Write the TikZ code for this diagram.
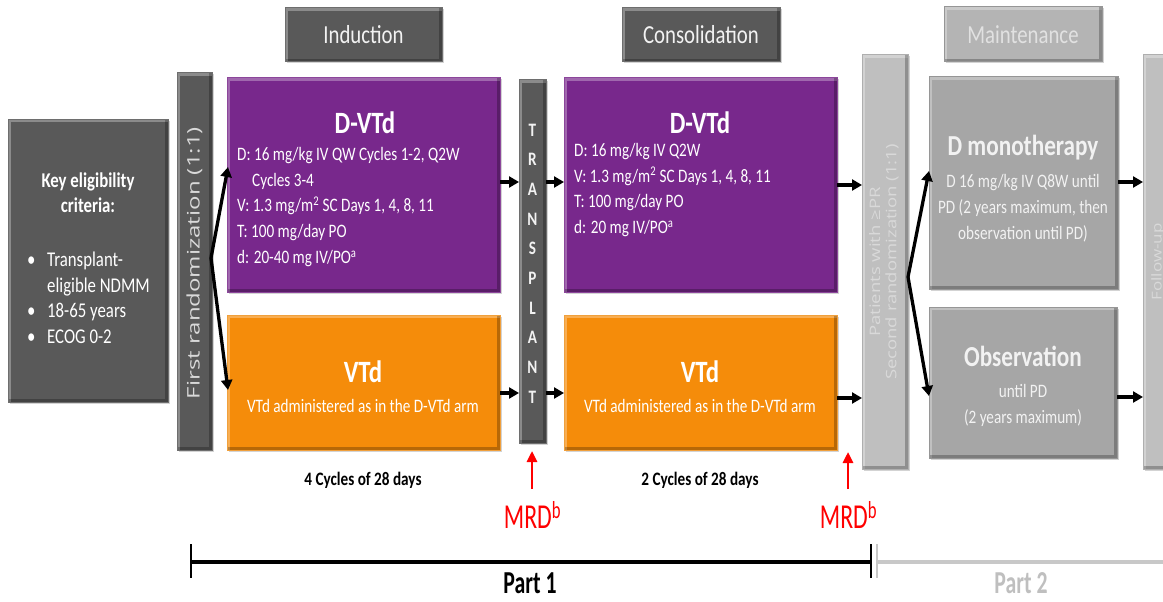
\documentclass[tikz,border=0pt]{standalone}
\usepackage{fontspec}
\setmainfont{Carlito}[FakeStretch=0.8]
\newfontfamily\osans{Open Sans}
\usetikzlibrary{shadows,arrows.meta}
\definecolor{dgray}{RGB}{89,89,89}
\definecolor{dgrayedge}{RGB}{110,110,110}
\definecolor{purp}{RGB}{120,40,140}
\definecolor{purpedge}{RGB}{140,70,155}
\definecolor{orng}{RGB}{245,140,10}
\definecolor{orngedge}{RGB}{240,160,60}
\definecolor{lgray}{RGB}{191,191,191}
\definecolor{lgrayedge}{RGB}{175,175,175}
\definecolor{mgray}{RGB}{166,166,166}
\definecolor{mgrayedge}{RGB}{150,150,150}
\definecolor{hgray}{RGB}{180,180,180}
\definecolor{softwhite}{RGB}{242,242,242}
\definecolor{rottext}{RGB}{217,217,217}
\definecolor{linegray}{RGB}{200,200,200}
\definecolor{partgray}{RGB}{191,191,191}
\definecolor{mrdred}{RGB}{255,0,0}
\begin{document}
\begin{tikzpicture}[x=1pt,y=-1pt,
  boxbase/.style={anchor=north west, inner sep=0pt, outer sep=0pt, line width=1pt,
     drop shadow={shadow xshift=1.5pt, shadow yshift=-1.5pt, opacity=0.35},
     path picture={
       \draw[white, opacity=0.3, line width=6pt]
         (path picture bounding box.south west) -- (path picture bounding box.north west)
         -- (path picture bounding box.north east);
       \draw[black, opacity=0.25, line width=6pt]
         (path picture bounding box.north east) -- (path picture bounding box.south east)
         -- (path picture bounding box.south west);
     }},
  darkbox/.style={boxbase, fill=dgray, draw=dgrayedge},
  purplebox/.style={boxbase, fill=purp, draw=purpedge},
  orangebox/.style={boxbase, fill=orng, draw=orngedge},
  lightbar/.style={boxbase, fill=lgray, draw=lgrayedge},
  maintbox/.style={boxbase, fill=mgray, draw=mgrayedge},
  headbox/.style={boxbase, fill=hgray, draw=mgrayedge},
  sz/.style 2 args={minimum width=#1, minimum height=#2},
  hdrtext/.style={text=softwhite, font=\fontsize{26}{30}\selectfont},
  titletext/.style={text=white, font=\bfseries\fontsize{31}{36}\selectfont},
  bodytext/.style={text=white, font=\fontsize{19}{25.8}\selectfont, align=left, inner sep=0pt},
  mtitle/.style={text=softwhite, font=\bfseries\fontsize{29}{34}\selectfont},
  mbody/.style={text=softwhite, font=\fontsize{19}{26}\selectfont, align=center, inner sep=0pt},
  arr/.style={draw=black, line width=3.3pt, -{Triangle[length=10pt,width=11pt]}},
  redarr/.style={draw=mrdred, line width=2.6pt, -{Triangle[length=11pt,width=10pt]}},
  cyctext/.style={text=black, font=\bfseries\fontsize{19}{22}\selectfont},
  mrdtext/.style={text=mrdred, font=\fontsize{35}{38}\selectfont, inner sep=0pt},
]
\useasboundingbox (0,0) rectangle (1163,602);

% headers
\node[darkbox, sz={157pt}{54pt}] (ind) at (285,8) {};
\node[darkbox, sz={158pt}{54pt}] (cons) at (622,8) {};
\node[headbox, sz={158pt}{55pt}] (maint) at (944,7) {};
\node[hdrtext] (indT) at (ind.center) {Induction};
\node[hdrtext] (consT) at (cons.center) {Consolidation};
\node[hdrtext, text=rottext!80!white] (maintT) at (maint.center) {Maintenance};

% boxes
\node[darkbox, sz={160pt}{283pt}] (elig) at (8,119) {};
\node[darkbox, sz={35pt}{377pt}] (rand1) at (177,73) {};
\node[purplebox, sz={273pt}{214pt}] (dvtd1) at (227,78) {};
\node[orangebox, sz={273pt}{135pt}] (vtd1) at (227,315) {};
\node[darkbox, sz={27pt}{363pt}] (tx) at (519,80) {};
\node[purplebox, sz={273pt}{214pt}] (dvtd2) at (564,78) {};
\node[orangebox, sz={273pt}{135pt}] (vtd2) at (564,315) {};
\node[lightbar, sz={46pt}{414pt}] (rand2) at (862,55) {};
\node[maintbox, sz={189pt}{212pt}] (dmono) at (929,77) {};
\node[maintbox, sz={188pt}{151pt}] (obs) at (929,307) {};
\node[lightbar, sz={35pt}{414pt}] (fu) at (1143,55) {};

% eligibility text
\node[text=white, font=\bfseries\fontsize{21}{25}\selectfont, align=center] (eligT) at (88,193) {Key eligibility\\criteria:};
\node[text=white, font=\fontsize{21}{25.5}\selectfont, align=left, anchor=west, inner sep=0pt] (eligB) at (27,298)
  {\makebox[20pt][l]{•}Transplant-\\\makebox[20pt][l]{}eligible NDMM\\\makebox[20pt][l]{•}18-65 years\\\makebox[20pt][l]{•}ECOG 0-2};

% rotated bar texts
\node[rotate=90, text=rottext, font=\osans\fontsize{24}{28}\selectfont] (rand1T) at (194.5,263) {\scalebox{1}[0.72]{First randomization (1:1)}};
\node[rotate=90, text=rottext, font=\osans\fontsize{18.5}{21}\selectfont] (rand2T) at (885,262)
  {\scalebox{1}[0.78]{\begin{tabular}{@{}c@{}}Patients with ≥PR\\Second randomization (1:1)\end{tabular}}};
\node[rotate=90, text=rottext, font=\osans\fontsize{17}{20}\selectfont] (fuT) at (1158,262) {\scalebox{1}[0.8]{Follow-up}};

% transplant letters
\node[text=softwhite, font=\bfseries\fontsize{19}{29.7}\selectfont, align=center, inner sep=0pt] (txT) at (532.5,263.5)
  {T\\R\\A\\N\\S\\P\\L\\A\\N\\T};

% induction D-VTd
\node[titletext] (dvtd1T) at (365,123) {D-VTd};
\node[bodytext, anchor=west] (dvtd1B) at (237,207)
  {D: 16 mg/kg IV QW Cycles 1-2, Q2W\\\hspace*{15pt}Cycles 3-4\\V: 1.3 mg/m\textsuperscript{2} SC Days 1, 4, 8, 11\\T: 100 mg/day PO\\d: 20-40 mg IV/PO\textsuperscript{a}};
\node[titletext] (vtd1T) at (363,372) {VTd};
\node[bodytext] (vtd1B) at (363,406) {VTd administered as in the D-VTd arm};

% consolidation
\node[titletext] (dvtd2T) at (700,123) {D-VTd};
\node[bodytext, anchor=west] (dvtd2B) at (574,190)
  {D: 16 mg/kg IV Q2W\\V: 1.3 mg/m\textsuperscript{2} SC Days 1, 4, 8, 11\\T: 100 mg/day PO\\d: 20 mg IV/PO\textsuperscript{a}};
\node[titletext] (vtd2T) at (700,372) {VTd};
\node[bodytext] (vtd2B) at (700,406) {VTd administered as in the D-VTd arm};

% maintenance
\node[mtitle] (dmonoT) at (1023,148) {D monotherapy};
\node[mbody] (dmonoB) at (1023,208) {D 16 mg/kg IV Q8W until\\PD (2 years maximum, then\\observation until PD)};
\node[mtitle] (obsT) at (1023,356) {Observation};
\node[mbody] (obsB) at (1023,405) {until PD\\(2 years maximum)};

% cycles
\node[cyctext] (cyc1) at (363,480) {4 Cycles of 28 days};
\node[cyctext] (cyc2) at (700,480) {2 Cycles of 28 days};

% MRD
\node[mrdtext] (mrd1) at (532.5,515) {\scalebox{0.85}[1]{MRD\textsuperscript{b}}};
\node[mrdtext] (mrd2) at (848.5,515) {\scalebox{0.85}[1]{MRD\textsuperscript{b}}};
\coordinate (m1a) at (532,489); \coordinate (m1b) at (532,451);
\coordinate (m2a) at (848,489); \coordinate (m2b) at (848,452);
\draw[redarr] (m1a) -- (m1b);
\draw[redarr] (m2a) -- (m2b);

% arrows
\coordinate (f1) at (211,258);
\coordinate (f1t) at (228,167);
\coordinate (f1b) at (228,390);
\draw[arr] (f1) -- (f1t);
\draw[arr] (f1) -- (f1b);
\draw[arr] (dvtd1.east |- 0,182) -- (tx.west |- 0,182);
\draw[arr] (vtd1.east |- 0,393) -- (tx.west |- 0,393);
\draw[arr] (tx.east |- 0,182) -- (dvtd2.west |- 0,182);
\draw[arr] (tx.east |- 0,393) -- (dvtd2.west |- 0,393);
\draw[arr] (dvtd2.east |- 0,185) -- (rand2.west |- 0,185);
\draw[arr] (vtd2.east |- 0,398) -- (rand2.west |- 0,398);
\coordinate (f2) at (908,277);
\coordinate (f2t) at (929,171);
\coordinate (f2b) at (929,396);
\draw[arr] (f2) -- (f2t);
\draw[arr] (f2) -- (f2b);
\draw[arr] (dmono.east |- 0,182) -- (fu.west |- 0,182);
\draw[arr] (obs.east |- 0,397) -- (fu.west |- 0,397);

% timeline
\coordinate (t0) at (191,562);
\coordinate (t1) at (871,562);
\coordinate (t2) at (877,562);
\coordinate (t3) at (1163,562);
\draw[line width=3.5pt, black] (t0) -- (t1);
\draw[line width=2.6pt, black] (191,544) -- (191,578);
\draw[line width=2.6pt, black] (871,544) -- (871,578);
\draw[line width=2.6pt, linegray] (877,544) -- (877,578);
\draw[line width=3.5pt, linegray] (t2) -- (t3);
\node[text=black, font=\bfseries\fontsize{32}{36}\selectfont] (p1) at (530,583) {\scalebox{0.85}[1]{Part 1}};
\node[text=partgray, font=\bfseries\fontsize{32}{36}\selectfont] (p2) at (1021,583) {\scalebox{0.85}[1]{Part 2}};
\end{tikzpicture}
\end{document}
